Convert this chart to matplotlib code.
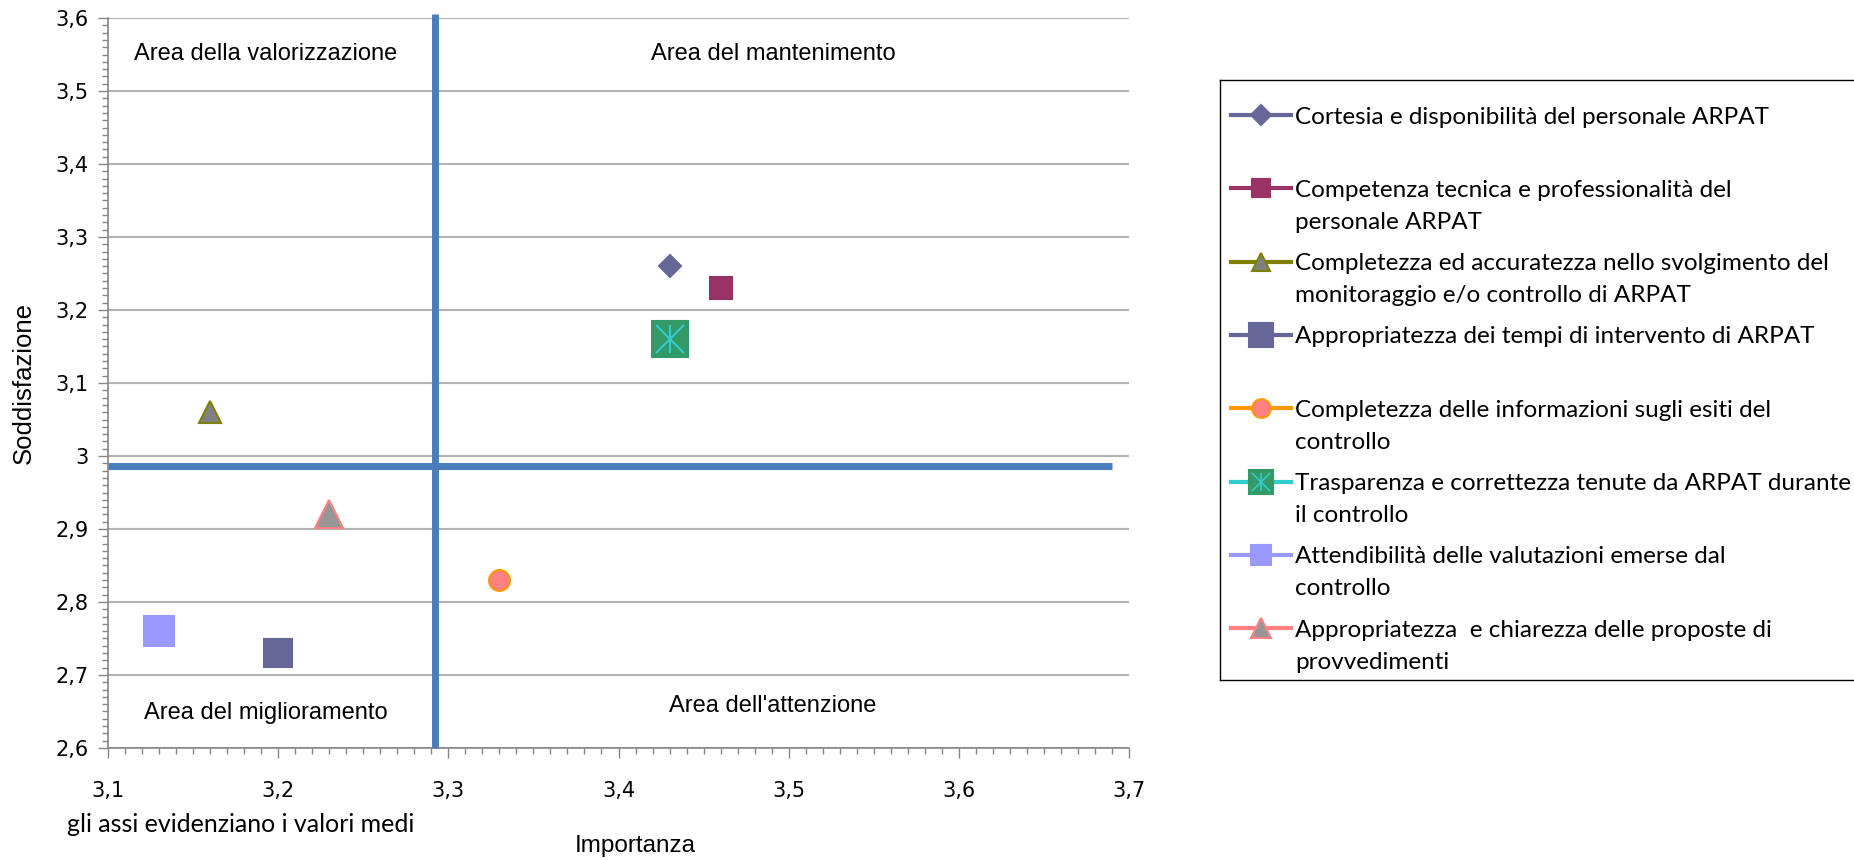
import numpy as np
import matplotlib
matplotlib.use("Agg")
import matplotlib.pyplot as plt
from matplotlib.ticker import MultipleLocator, FixedLocator
from matplotlib.transforms import ScaledTranslation

# --- data ---
labels = [
    "Cortesia e disponibilità del personale ARPAT",
    "Competenza tecnica e professionalità del\npersonale ARPAT",
    "Completezza ed accuratezza nello svolgimento del\nmonitoraggio e/o controllo di ARPAT",
    "Appropriatezza dei tempi di intervento di ARPAT",
    "Completezza delle informazioni sugli esiti del\ncontrollo",
    "Trasparenza e correttezza tenute da ARPAT durante\nil controllo",
    "Attendibilità delle valutazioni emerse dal\ncontrollo",
    "Appropriatezza  e chiarezza delle proposte di\nprovvedimenti",
]
importanza = [3.43, 3.46, 3.16, 3.20, 3.33, 3.43, 3.13, 3.23]
soddisfazione = [3.26, 3.23, 3.06, 2.73, 2.83, 3.16, 2.76, 2.92]

media_importanza = 3.292
media_soddisfazione = 2.986

x_ticks = [3.1, 3.2, 3.3, 3.4, 3.5, 3.6, 3.7]
x_ticklabels = ["3,1", "3,2", "3,3", "3,4", "3,5", "3,6", "3,7"]
y_ticks = [2.6, 2.7, 2.8, 2.9, 3.0, 3.1, 3.2, 3.3, 3.4, 3.5, 3.6]
y_ticklabels = ["2,6", "2,7", "2,8", "2,9", "3", "3,1", "3,2", "3,3", "3,4", "3,5", "3,6"]

# marker styles: (marker, size pt, legend size pt, face, edge, line colour)
styles = [
    ("D", 11.2, 10.0, "#666699", "#666699", "#666699"),
    ("s", 15.8, 13.5, "#993366", "#993366", "#993366"),
    ("^", 15.8, 13.5, "#808080", "#808000", "#808000"),
    ("s", 20.5, 17.0, "#666699", "#666699", "#666699"),
    ("o", 15.0, 13.5, "#FF8080", "#FF9900", "#FF9900"),
    ("s", 26.0, 17.0, "#339966", "#339966", "#33CCCC"),
    ("s", 21.5, 15.0, "#9999FF", "#9999FF", "#9999FF"),
    ("^", 20.5, 15.0, "#969696", "#FF8080", "#FF8080"),
]

W, H = 1854, 860
fig = plt.figure(figsize=(W / 100, H / 100), dpi=100)
ax = fig.add_axes([108 / W, 1 - 748 / H, 1021 / W, 730 / H])

# mean lines
line_c = "#4A7EBB"
ax.plot([media_importanza, media_importanza], [2.6, 3.605], color=line_c, lw=5, zorder=3,
        solid_capstyle="butt", clip_on=False)
ax.plot([3.1, 3.69], [media_soddisfazione, media_soddisfazione], color=line_c, lw=5,
        zorder=3, solid_capstyle="butt")

for k in range(len(labels)):
    m, ms, lms, fc, ec, lc = styles[k]
    ax.plot(importanza[k], soddisfazione[k], marker=m, ms=ms, mfc=fc, mec=ec,
            mew=1.5, ls="none", zorder=4)
    if k == 5:
        ax.plot(importanza[k], soddisfazione[k], marker="x", ms=20, mec=lc, mew=1.5,
                ls="none", zorder=5)
        ax.plot(importanza[k], soddisfazione[k], marker="|", ms=20, mec=lc, mew=1.5,
                ls="none", zorder=5)

ax.set_xlim(3.1, 3.7)
ax.set_ylim(2.6, 3.6)
ax.xaxis.set_major_locator(FixedLocator(x_ticks))
ax.yaxis.set_major_locator(FixedLocator(y_ticks))
ax.set_xticklabels(x_ticklabels, fontsize=15, family="DejaVu Sans")
ax.set_yticklabels(y_ticklabels, fontsize=15, family="DejaVu Sans")
down = ScaledTranslation(0, -0.04, fig.dpi_scale_trans)
for t in ax.get_yticklabels():
    t.set_transform(t.get_transform() + down)
ax.xaxis.set_minor_locator(MultipleLocator(0.01))
ax.yaxis.set_minor_locator(MultipleLocator(0.01))
ax.tick_params(which="both", direction="out", color="#868686", width=1)
ax.tick_params(which="major", length=7)
ax.tick_params(which="minor", length=4)
ax.tick_params(axis="x", pad=17)
ax.tick_params(axis="y", pad=7)

ax.yaxis.grid(True, which="major", color="#B3B3B3", lw=1.5)
ax.set_axisbelow(True)
for s in ["top", "right"]:
    ax.spines[s].set_visible(False)
for s in ["left", "bottom"]:
    ax.spines[s].set_color("#868686")
    ax.spines[s].set_linewidth(1.2)

fig.text(24 / W, 1 - 383 / H, "Soddisfazione", fontsize=18.5, family="Liberation Sans",
         rotation=90, ha="center", va="center")
fig.text(635 / W, 1 - 846 / H, "Importanza", fontsize=17.5, family="Liberation Sans",
         ha="center", va="center")
fig.text(67 / W, 1 - 824 / H, "gli assi evidenziano i valori medi", fontsize=18,
         family="Lato", ha="left", va="center")

area_font = dict(fontsize=17, family="Liberation Sans", ha="center", va="center")
ax.text(3.1927, 3.55, "Area della valorizzazione", **area_font)
ax.text(3.491, 3.55, "Area del mantenimento", **area_font)
ax.text(3.193, 2.6485, "Area del miglioramento", **area_font)
ax.text(3.4906, 2.657, "Area dell'attenzione", **area_font)

# legend drawn by hand (pixel coordinates inside the box)
lx0, ly0, lx1, ly1 = 1220, 80, W, 680
lax = fig.add_axes([lx0 / W, 1 - ly1 / H, (lx1 - lx0) / W, (ly1 - ly0) / H])
lax.set_xlim(0, lx1 - lx0)
lax.set_ylim(ly1 - ly0, 0)
lax.set_xticks([])
lax.set_yticks([])
lax.patch.set_alpha(0)
lax.spines["right"].set_visible(False)
for s in ["left", "top", "bottom"]:
    lax.spines[s].set_color("black")
    lax.spines[s].set_linewidth(1)

for k in range(len(labels)):
    m, ms, lms, fc, ec, lc = styles[k]
    y = 35 + k * 73.3
    lax.plot([11, 71], [y, y], color=lc, lw=3)
    lax.plot([41], [y], marker=m, ms=lms, mfc=fc, mec=ec, mew=1.5, ls="none")
    if k == 5:
        lax.plot([41], [y], marker="x", ms=lms * 0.75, mec=lc, mew=1.2, ls="none")
        lax.plot([41], [y], marker="|", ms=lms * 0.75, mec=lc, mew=1.2, ls="none")
    for j, line in enumerate(labels[k].split("\n")):
        lax.text(75, y + j * 32, line, fontsize=17.5, family="Lato",
                 va="center_baseline", ha="left")

fig.savefig("out.png", dpi=100)
